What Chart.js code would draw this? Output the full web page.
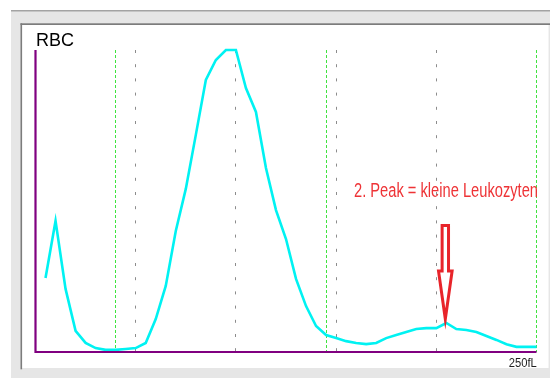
<!DOCTYPE html>
<html>
<head>
<meta charset="utf-8">
<title>RBC</title>
<style>
  html, body { margin: 0; padding: 0; background: #ffffff; }
  canvas { display: block; }
</style>
<script src="https://cdn.jsdelivr.net/npm/chart.js@4.4.1/dist/chart.umd.min.js"></script>
</head>
<body>
<canvas id="rbc" width="550" height="378"></canvas>
<script>
// Cell volume channels (fL) and relative counts of the RBC histogram
const volumes = [5, 10, 15, 20, 25, 30, 35, 40, 45, 50,
                 55, 60, 65, 70, 75, 80, 85, 90, 95, 100,
                 105, 110, 115, 120, 125, 130, 135, 140, 145, 150,
                 155, 160, 165, 170, 175, 180, 185, 190, 195, 200,
                 205, 210, 215, 220, 225, 230, 235, 240, 245, 250];
const counts = [24.5, 43.4, 20.9, 7.0, 3.0, 1.3, 0.7, 0.7, 1.0, 1.3,
                3.0, 10.9, 21.9, 40.1, 54.0, 71.9, 90.1, 96.7, 100, 100,
                87.4, 79.5, 60.9, 47.0, 37.4, 24.2, 15.2, 8.6, 5.6, 4.6,
                3.6, 3.0, 2.6, 3.0, 4.6, 5.6, 6.6, 7.6, 7.9, 7.9,
                9.6, 7.6, 7.3, 6.6, 5.3, 4.0, 2.6, 1.7, 1.7, 1.7];

// Discriminator lines (green) and reference marks (grey), in fL
const discriminators = [40, 145, 250];
const referenceMarks = [50, 100, 150, 200];

const titleText = 'RBC';
const axisEndLabel = '250fL';
const noteText = '2. Peak = kleine Leukozyten';
const peakVolume = 205;

const FONT = '"Liberation Sans", Arial, sans-serif';

// Draws text at a given size, squeezed horizontally to a given width
function fittedText(ctx, text, x, y, size, width, align, color) {
  ctx.save();
  ctx.font = size + 'px ' + FONT;
  const w = ctx.measureText(text).width;
  ctx.translate(x, y);
  ctx.scale(width / w, 1);
  ctx.textAlign = align;
  ctx.textBaseline = 'alphabetic';
  ctx.fillStyle = color;
  ctx.fillText(text, 0, 0);
  ctx.restore();
}

const histogramDecor = {
  id: 'histogramDecor',
  beforeDraw(chart) {
    const ctx = chart.ctx;
    const W = chart.width, H = chart.height;
    ctx.save();
    ctx.fillStyle = '#ffffff';
    ctx.fillRect(0, 0, W, H);
    // window frame
    ctx.fillStyle = '#e6e6e6';
    ctx.fillRect(11, 10, W - 11, H - 10);
    ctx.fillStyle = '#a3a3a3';
    ctx.fillRect(11, 10, W - 11, 1.5);
    // inner white panel with sunken border
    ctx.fillStyle = '#ffffff';
    ctx.fillRect(22, 25, W - 24, 343);
    ctx.fillStyle = '#f4f4f4';
    ctx.fillRect(W - 2, 25, 1, 343);
    ctx.fillStyle = '#7c7c7c';
    ctx.fillRect(20.5, 23.3, W - 20.5, 1.7);
    ctx.fillRect(20.5, 23.3, 1.6, 346);
    ctx.restore();
  },
  beforeDatasetsDraw(chart) {
    const ctx = chart.ctx;
    const xs = chart.scales.x;
    const { top, bottom } = chart.chartArea;
    const snap = v => Math.round(xs.getPixelForValue(v) - 0.5) + 0.5;
    ctx.save();
    ctx.lineWidth = 1;
    ctx.strokeStyle = '#8c8c8c';
    ctx.setLineDash([3, 11.2]);
    referenceMarks.forEach(v => {
      const px = snap(v);
      ctx.beginPath(); ctx.moveTo(px, top); ctx.lineTo(px, bottom); ctx.stroke();
    });
    ctx.strokeStyle = '#3fe33f';
    ctx.setLineDash([3, 2]);
    discriminators.forEach(v => {
      const px = snap(v);
      ctx.beginPath(); ctx.moveTo(px, top); ctx.lineTo(px, bottom); ctx.stroke();
    });
    ctx.restore();
  },
  afterDatasetsDraw(chart) {
    const ctx = chart.ctx;
    const xs = chart.scales.x, ys = chart.scales.y;
    const { left, right, top, bottom } = chart.chartArea;
    ctx.save();
    // axes
    ctx.strokeStyle = '#800080';
    ctx.lineWidth = 2.2;
    ctx.beginPath();
    ctx.moveTo(left, top);
    ctx.lineTo(left, bottom);
    ctx.lineTo(right, bottom);
    ctx.stroke();
    ctx.restore();

    // labels
    fittedText(ctx, titleText, 36, 46, 19, 38, 'left', '#000000');
    fittedText(ctx, axisEndLabel, xs.getPixelForValue(250) + 0.3, 367, 12.5, 28, 'right', '#1e1e1e');
    fittedText(ctx, noteText, 354, 196.7, 19.5, 184, 'left', '#ee3336');

    // hollow arrow pointing at the second peak
    const cx = xs.getPixelForValue(peakVolume) - 1;
    const tip = ys.getPixelForValue(counts[volumes.indexOf(peakVolume)]) - 4;
    ctx.save();
    ctx.strokeStyle = '#e8242a';
    ctx.lineWidth = 3;
    ctx.lineJoin = 'miter';
    ctx.beginPath();
    ctx.moveTo(cx - 3.2, tip - 93.5);
    ctx.lineTo(cx + 3.2, tip - 93.5);
    ctx.lineTo(cx + 3.2, tip - 48);
    ctx.lineTo(cx + 6.8, tip - 48);
    ctx.lineTo(cx, tip);
    ctx.lineTo(cx - 6.8, tip - 48);
    ctx.lineTo(cx - 3.2, tip - 48);
    ctx.closePath();
    ctx.stroke();
    ctx.restore();
  }
};

new Chart(document.getElementById('rbc'), {
  type: 'line',
  data: {
    datasets: [{
      data: volumes.map((v, i) => ({ x: v, y: counts[i] })),
      borderColor: '#00f2f2',
      borderWidth: 2.6,
      pointRadius: 0,
      tension: 0,
      fill: false,
      clip: false
    }]
  },
  options: {
    responsive: false,
    animation: false,
    devicePixelRatio: 1,
    layout: { padding: { left: 35.5, right: 13.5, top: 50, bottom: 26 } },
    scales: {
      x: { type: 'linear', min: 0, max: 250, display: false },
      y: { min: 0, max: 100, display: false }
    },
    plugins: {
      legend: { display: false },
      tooltip: { enabled: false },
      title: { display: false }
    }
  },
  plugins: [histogramDecor]
});
</script>
</body>
</html>
